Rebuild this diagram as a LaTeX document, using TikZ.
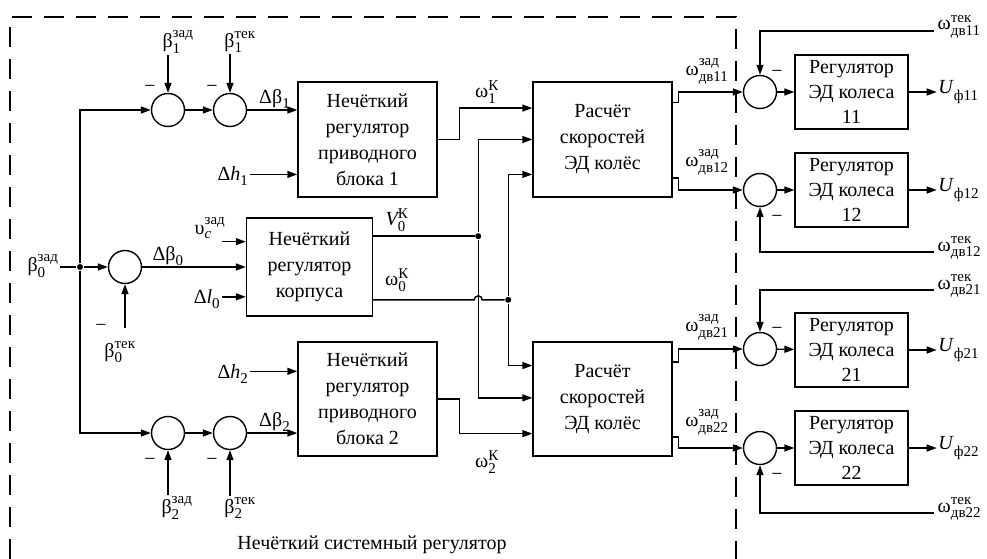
\documentclass[tikz,border=0pt]{standalone}
\usepackage{amsmath}
\usepackage{fontspec}
\setmainfont{Liberation Serif}
\usetikzlibrary{arrows.meta,positioning,calc}
\DeclareMathSizes{20}{20}{15}{12}

\newcommand{\sig}[3]{$\text{#1}_{\text{#2}}^{\text{#3}}$}

\begin{document}
\begin{tikzpicture}[x=1pt, y=-1pt, line width=1.4pt,
  >={Triangle[length=10pt,width=7pt]},
  blk/.style={draw, align=center, inner sep=0pt, font=\fontsize{20}{26}\selectfont},
  sumc/.style={draw, circle, minimum size=33pt, inner sep=0pt},
  lbl/.style={inner sep=1pt, font=\fontsize{20}{24}\selectfont},
  jdot/.style={circle, fill, inner sep=0pt, minimum size=6pt},
  frame/.style={line width=1.3pt, dash pattern=on 20pt off 12pt}]
\useasboundingbox (0,0) rectangle (987,559);

% dashed border of the system regulator
\draw[frame] (10,559) -- (10,17) -- (736,17) -- (736,559);
\node[lbl] (sysname) at (372,545) {Нечёткий системный регулятор};

% blocks
\node[blk, minimum width=139pt, minimum height=115pt] (fz1) at (367.5,139.5) {Нечёткий\\регулятор\\приводного\\блока 1};
\node[blk, minimum width=126pt, minimum height=98pt] (fzb) at (309.5,267) {Нечёткий\\регулятор\\корпуса};
\node[blk, minimum width=139pt, minimum height=114pt] (fz2) at (367.5,399) {Нечёткий\\регулятор\\приводного\\блока 2};
\node[blk, minimum width=139pt, minimum height=115pt] (calc1) at (602.5,139.5) {Расчёт\\скоростей\\ЭД колёс};
\node[blk, minimum width=139pt, minimum height=114pt] (calc2) at (602.5,399) {Расчёт\\скоростей\\ЭД колёс};
\foreach \n/\y in {11/92,12/190,21/350,22/448}
  \node[blk, minimum width=113pt, minimum height=74pt, font=\fontsize{20}{25}\selectfont] (g\n) at (851.5,\y) {Регулятор\\ЭД колеса\\\n};

% summing points
\foreach \n/\x/\y in {s1a/168/110, s1b/230/110, s0/125/267, s2a/168/433, s2b/230/433,
                      r11/760/92, r12/760/190, r21/760/349, r22/760/448}
  \node[sumc] (\n) at (\x,\y) {};
\foreach \n/\x/\y in {m1a/150/89, m1b/212/89, m0/101/328, m2a/150/462, m2b/212/462,
                      m11/777/74, m12/777/219, m21/777/331, m22/777/477}
  \node[lbl] (\n) at (\x,\y) {−};

% ports on the block sides
\path (calc1.north west) -- (calc1.south west) coordinate[pos=0.23] (c1i1) coordinate[pos=0.5] (c1i2) coordinate[pos=0.8] (c1i3);
\path (calc2.north west) -- (calc2.south west) coordinate[pos=0.21] (c2i1) coordinate[pos=0.49] (c2i2) coordinate[pos=0.8] (c2i3);
\path (calc1.north east) -- (calc1.south east) coordinate[pos=0.18] (c1o1) coordinate[pos=0.83] (c1o2);
\path (calc2.north east) -- (calc2.south east) coordinate[pos=0.18] (c2o1) coordinate[pos=0.83] (c2o2);
\path (fzb.north west) -- (fzb.south west) coordinate[pos=0.245] (bi1) coordinate[pos=0.8] (bi3);
\path (fzb.north east) -- (fzb.south east) coordinate[pos=0.19] (bo1) coordinate[pos=0.83] (bo2);
\path (fz1.north west) -- (fz1.south west) coordinate[pos=0.8] (f1i2);
\path (fz2.north west) -- (fz2.south west) coordinate[pos=0.26] (f2i1);

% beta_0 and the trunk
\node[lbl] (b0z) at (43,266) {\sig{β}{0}{зад}};
\node[jdot] (d0) at (80,267) {};
\draw (b0z.east |- d0) -- (d0);
\draw[->] (d0) -- (s0);
\draw[->] (d0) |- (s1a);
\draw[->] (d0) |- (s2a);
\draw[->] (s1a) -- (s1b);
\draw[->] (s2a) -- (s2b);
\draw[->] (s1b) -- (s1b -| fz1.west) node[lbl, pos=0.55, above] (db1) {\sig{Δβ}{1}{}};
\draw[->] (s0) -- (fzb.west) node[lbl, pos=0.25, above] (db0) {\sig{Δβ}{0}{}};
\draw[->] (s2b) -- (s2b -| fz2.west) node[lbl, pos=0.55, above] (db2) {\sig{Δβ}{2}{}};

% angle inputs
\node[lbl] (b1z) at (178,42) {\sig{β}{1}{зад}};
\node[lbl] (b1t) at (240,42) {\sig{β}{1}{тек}};
\draw[->] (b1z.south -| s1a) -- (s1a);
\draw[->] (b1t.south -| s1b) -- (s1b);
\node[lbl] (b2z) at (177,508) {\sig{β}{2}{зад}};
\node[lbl] (b2t) at (240,508) {\sig{β}{2}{тек}};
\draw[->] (b2z.north -| s2a) -- (s2a);
\draw[->] (b2t.north -| s2b) -- (s2b);
\node[lbl] (b0t) at (120,352) {\sig{β}{0}{тек}};
\coordinate (b0a) at (125,328);
\draw[->] (b0a) -- (s0);

% other inputs
\node[lbl] (dh1) at (233,176) {\sig{Δ\textit{h}}{1}{}};
\draw[->] (dh1.east |- f1i2) -- (f1i2);
\node[lbl] (dh2) at (233,374) {\sig{Δ\textit{h}}{2}{}};
\draw[->] (dh2.east |- f2i1) -- (f2i1);
\node[lbl] (vc) at (210,228) {$\text{υ}_{\textit{c}}^{\text{зад}}$};
\draw[->] ($(bi1)+(-24,0)$) -- (bi1);
\node[lbl] (dl0) at (207,299) {\sig{Δ\textit{l}}{0}{}};
\draw[->] (dl0.east |- bi3) -- (bi3);

% drive block outputs
\draw[->] (fz1.east) -- ++(22,0) |- (c1i1);
\node[lbl] (w1k) at (487,92) {\sig{ω}{1}{К}};
\draw[->] (fz2.east) -- ++(22,0) |- (c2i3);
\node[lbl] (w2k) at (487,462) {\sig{ω}{2}{К}};

% body outputs
\node[jdot] (dv) at ($(bo1)+(105,0)$) {};
\node[jdot] (dw) at ($(bo2)+(135,0)$) {};
\draw (bo1) -- (dv);
\draw (bo2) -- ($(bo2 -| dv)+(-4,0)$) arc[start angle=180, end angle=360, radius=4] -- (dw);
\draw[->] (dv) |- (c1i2);
\draw[->] (dv) |- (c2i2);
\draw[->] (dw) |- (c1i3);
\draw[->] (dw) |- (c2i1);
\node[lbl] (v0k) at (397,220) {$\textit{V}_{\text{0}}^{\text{К}}$};
\node[lbl] (w0k) at (397,280) {\sig{ω}{0}{К}};

% wheel speed set points
\draw[->] (c1o1) -- ++(6,0) |- (r11);
\draw[->] (c1o2) -- ++(6,0) |- (r12);
\draw[->] (c2o1) -- ++(6,0) |- (r21);
\draw[->] (c2o2) -- ++(6,0) |- (r22);
\node[lbl] (w11z) at (707,71) {\sig{ω}{дв11}{зад}};
\node[lbl] (w12z) at (707,162) {\sig{ω}{дв12}{зад}};
\node[lbl] (w21z) at (707,327) {\sig{ω}{дв21}{зад}};
\node[lbl] (w22z) at (707,422) {\sig{ω}{дв22}{зад}};

% wheel motor regulators
\foreach \n in {11,12,21,22} {
  \draw[->] (r\n) -- (g\n);
  \node[lbl, anchor=west] (u\n) at ($(g\n.east)+(28,0)$) {\sig{\textit{U}}{ф\n}{}};
  \draw[->] (g\n) -- (u\n);
}

% speed feedback
\foreach \n/\y in {11/31, 12/252, 21/290, 22/513} {
  \coordinate (f\n) at (934,\y);
  \node[lbl, anchor=base west] (t\n) at (936,\y-1) {\sig{ω}{дв\n}{тек}};
  \draw[->] (f\n) -| (r\n);
}
\end{tikzpicture}
\end{document}
